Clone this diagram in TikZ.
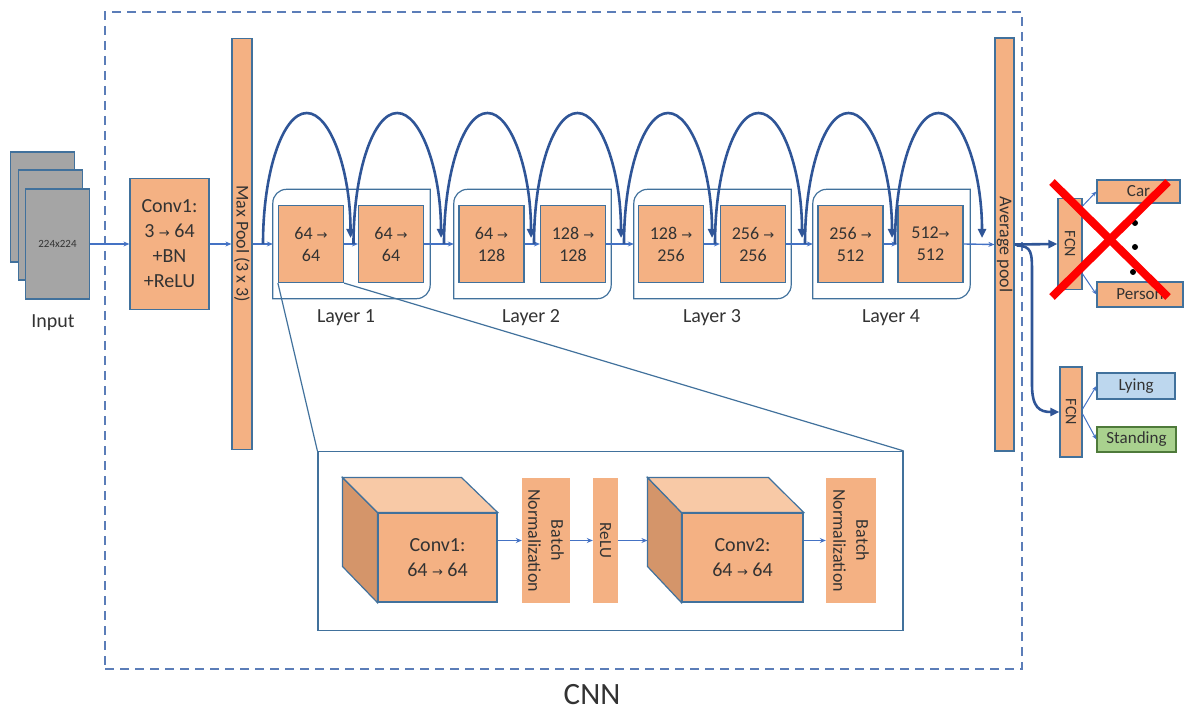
\documentclass[tikz,border=0pt]{standalone}
\usepackage{fontspec}
\setmainfont{Carlito}
\newfontfamily\symfont{DejaVu Sans}
\usetikzlibrary{arrows.meta,calc}
\newcommand\ra{{\symfont\fontsize{13}{13}\selectfont →}}
\newcommand\fs[2]{\fontsize{#1}{#2}\selectfont}
\definecolor{org}{HTML}{F4B183}
\definecolor{orgtop}{HTML}{F8C9A6}
\definecolor{orgside}{HTML}{D4956A}
\definecolor{bord}{HTML}{41719C}
\definecolor{lnc}{HTML}{4472C4}
\definecolor{arcc}{HTML}{2F5597}
\definecolor{dashc}{HTML}{5B7DB8}
\definecolor{txt}{HTML}{333333}
\definecolor{grayin}{HTML}{A5A5A5}
\definecolor{lyblue}{HTML}{BDD7EE}
\definecolor{stgreen}{HTML}{A9D18E}
\definecolor{stbord}{HTML}{4E7A3A}
\begin{document}
\begin{tikzpicture}[x=1pt,y=-1pt,
  every node/.style={text=txt},
  box/.style={draw=bord,fill=org,line width=1.2pt,inner sep=0pt,align=center},
  bar/.style={fill=org,inner sep=0pt,align=center},
  inbox/.style={draw=bord,fill=grayin,line width=1.2pt,inner sep=0pt,minimum width=64,minimum height=110},
  lyr/.style={inner sep=0pt,minimum width=157,minimum height=109},
  unit/.style={box,minimum width=65,minimum height=77,font=\fs{18}{22}},
  lyrline/.style={draw=bord,line width=1.2pt},
  ln/.style={draw=lnc,line width=1.4pt,-{Stealth[length=6pt,width=5pt]}},
  thinarr/.style={draw=lnc,line width=1pt,-{Stealth[length=5pt,width=4pt]}},
  skip/.style={draw=arcc,line width=2.6pt,-{Triangle[length=9pt,width=8pt]}},
  bigarr/.style={draw=arcc,line width=2.6pt,-{Triangle[length=9pt,width=8pt]}},
  zl/.style={draw=bord,line width=1.2pt},
  lbl/.style={font=\fs{20}{22}}
]
\useasboundingbox (0,0) rectangle (1186,711);

% CNN frame
\node[draw=dashc,line width=2.2pt,dash pattern=on 9pt off 6pt,minimum width=917,minimum height=657,inner sep=0pt] (cnn) at (563.5,340.5) {};
\node[font=\fs{31}{33}] (cnnlbl) at (592,695) {CNN};

% input stack
\node[inbox] (in1) at (42.5,207) {};
\node[inbox] (in2) at (50.5,225) {};
\node[inbox,font=\fs{11}{12}] (in3) at (57.5,244) {224x224};
\node[lbl] (inlbl) at (53,323) {Input};

% stem
\node[box,minimum width=79,minimum height=131,font=\fs{20}{25}] (conv) at (169.5,244) {Conv1:\\3 \ra{} 64\\+BN\\+ReLU};
\node[box,rotate=-90,minimum width=411,minimum height=20,font=\fs{18}{19}] (mp) at (242,244) {Max Pool (3 x 3)};

% residual layers
\node[lyr] (L1) at (351.5,244) {};
\node[lyr] (L2) at (532.5,244) {};
\node[lyr] (L3) at (712.5,244) {};
\node[lyr] (L4) at (891.5,244) {};
\foreach \L in {L1,L2,L3,L4}{
  \draw[lyrline] (\L.south west) -- ($(\L.north west)+(0,14)$)
    .. controls ($(\L.north west)+(0,6)$) and ($(\L.north west)+(6,0)$) .. ($(\L.north west)+(14,0)$)
    -- (\L.north east) -- ($(\L.south east)+(0,-14)$)
    .. controls ($(\L.south east)+(0,-6)$) and ($(\L.south east)+(-6,0)$) .. ($(\L.south east)+(-14,0)$)
    -- cycle;
}
\node[unit] (b11) at (311,244) {64 \ra\\64};
\node[unit] (b12) at (391,244) {64 \ra\\64};
\node[unit] (b21) at (491.5,244) {64 \ra\\128};
\node[unit] (b22) at (573,244) {128 \ra\\128};
\node[unit] (b31) at (671,244) {128 \ra\\256};
\node[unit] (b32) at (753,244) {256 \ra\\256};
\node[unit] (b41) at (850.5,244) {256 \ra\\512};
\node[unit] (b42) at (930.5,244) {512\ra\\512};
\node[lbl] (t1) at (346,318) {Layer 1};
\node[lbl] (t2) at (531,318) {Layer 2};
\node[lbl] (t3) at (712,318) {Layer 3};
\node[lbl] (t4) at (891,318) {Layer 4};

% pooling and heads
\node[box,rotate=-90,minimum width=413,minimum height=19,font=\fs{18}{19}] (ap) at (1004.5,244.5) {Average pool};
\node[box,rotate=-90,minimum width=91,minimum height=24,font=\fs{16}{17}] (f1) at (1070,244) {FCN};
\node[box,minimum width=83,minimum height=23,font=\fs{17}{18}] (car) at (1138.5,191.5) {Car};
\node[box,minimum width=86,minimum height=25,font=\fs{17}{18}] (person) at (1140,294.5) {Person};
\node[box,rotate=-90,minimum width=90,minimum height=22,font=\fs{16}{17}] (f2) at (1071,412) {FCN};
\node[box,fill=lyblue,minimum width=78,minimum height=26,font=\fs{17}{18}] (lying) at (1136,386) {Lying};
\node[box,fill=stgreen,draw=stbord,minimum width=79,minimum height=25,font=\fs{17}{18}] (standing) at (1136.5,439.5) {Standing};

% main data path
\draw[ln] (in3.east) -- (conv.west);
\draw[ln] (conv.east) -- (mp.south);
\draw[ln] (mp.north) -- (L1.west);
\draw[ln] (b11.east) -- (b12.west);
\draw[ln] (b12.east) -- (L2.west);
\draw[ln] (b21.east) -- (b22.west);
\draw[ln] (b22.east) -- (L3.west);
\draw[ln] (b31.east) -- (b32.west);
\draw[ln] (b32.east) -- (L4.west);
\draw[ln] (b41.east) -- (b42.west);
\draw[ln] (b42.east) -- (ap.south);

% skip connections (half-ellipse arches)
\coordinate (a0) at (260,244);
\coordinate (a1) at (350.5,244);
\coordinate (a2) at (441,244);
\coordinate (a3) at (531,244);
\coordinate (a4) at (621,244);
\coordinate (a5) at (712,244);
\coordinate (a6) at (802,244);
\coordinate (a7) at (892,244);
\coordinate (a8) at (982,244);
\foreach \i/\j in {0/1,1/2,2/3,3/4,4/5,5/6,6/7,7/8}{
  \coordinate (top) at ($($(a\i)!0.5!(a\j)$)+(1.5,-131)$);
  \draw[skip] ($(a\i)+(3,0)$)
     .. controls ($(a\i)+(3,-72)$) and ($(top)+(-24,0)$) .. (top)
     .. controls ($(top)+(24,0)$) and ($(a\j)+(0,-72)$) .. ($(a\j)+(0,-6)$);
}

% heads wiring
\draw[bigarr] (ap.north) -- (f1.south);
\draw[bigarr] ($(ap.north)+(2,1)$) .. controls (1032,246) and (1032,252) .. (1032,275) -- (1032,385) .. controls (1032,408) and (1040,412) .. (f2.south);
\draw[thinarr] ($(f1.north)+(0,-38)$) -- (car.west);
\draw[thinarr] ($(f1.north)+(0,30)$) -- (person.west);
\draw[thinarr] ($(f2.north)+(0,-3)$) -- (lying.west);
\draw[thinarr] ($(f2.north)+(0,2)$) -- (standing.west);
\fill (1135,223) circle (3);
\fill (1135,247) circle (3);
\fill (1133,272) circle (3);
\draw[red,line width=8pt] (1052,182) -- (1168,297);
\draw[red,line width=8pt] (1168,182) -- (1052,297);

% basic block detail
\node[draw=bord,line width=1.2pt,minimum width=585,minimum height=179,inner sep=0pt] (ins) at (610.5,541) {};
\draw[zl] (b11.south west) -- (ins.north west);
\draw[zl] (b11.south east) -- (ins.north east);

\node[box,minimum width=119,minimum height=89,font=\fs{20}{25}] (c1) at (437.5,557.5) {Conv1:\\64 \ra{} 64};
\draw[draw=bord,line width=1.2pt,fill=orgside] (c1.north west) -- ++(-35,-35) -- ++(0,89) -- (c1.south west) -- cycle;
\draw[draw=bord,line width=1.2pt,fill=orgtop] (c1.north west) -- ++(-35,-35) -- ++(119,0) -- (c1.north east) -- cycle;
\node[bar,rotate=-90,minimum width=125,minimum height=48,font=\fs{18}{23}] (bn1) at (546,540.5) {Batch\\Normalization};
\node[bar,rotate=-90,minimum width=125,minimum height=25,font=\fs{17}{18}] (relu) at (605.5,540.5) {ReLU};
\node[box,minimum width=121,minimum height=89,font=\fs{20}{25}] (c2) at (742.5,557.5) {Conv2:\\64 \ra{} 64};
\draw[draw=bord,line width=1.2pt,fill=orgside] (c2.north west) -- ++(-34,-35) -- ++(0,89) -- (c2.south west) -- cycle;
\draw[draw=bord,line width=1.2pt,fill=orgtop] (c2.north west) -- ++(-34,-35) -- ++(121,0) -- (c2.north east) -- cycle;
\node[bar,rotate=-90,minimum width=125,minimum height=50,font=\fs{18}{23}] (bn2) at (851,540.5) {Batch\\Normalization};
\coordinate (c2back) at ($(c2.west |- relu.center)+(-34,0)$);
\draw[ln] (c1.east |- bn1.center) -- (bn1.south);
\draw[ln] (bn1.north) -- (relu.south);
\draw[ln] (relu.north) -- (c2back);
\draw[ln] (c2.east |- bn2.center) -- (bn2.south);
\end{tikzpicture}
\end{document}
